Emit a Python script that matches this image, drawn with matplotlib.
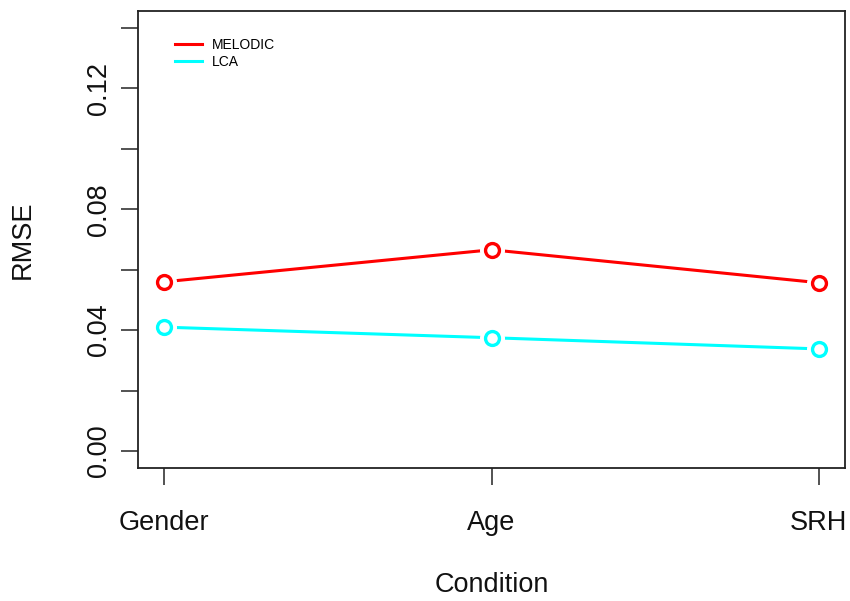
import matplotlib
matplotlib.use("Agg")
import matplotlib.pyplot as plt

# data
conditions = ["Gender", "Age", "SRH"]
melodic = [0.0560, 0.0666, 0.0557]
lca = [0.0410, 0.0375, 0.0338]
yticks = [0.00, 0.02, 0.04, 0.06, 0.08, 0.10, 0.12, 0.14]
ylabels = ["0.00", "", "0.04", "", "0.08", "", "0.12", ""]

plt.rcParams["font.family"] = ["Liberation Sans", "DejaVu Sans"]

fig = plt.figure(figsize=(8.5, 6.01), dpi=100)
ax = fig.add_axes([0.1624, 0.2213, 0.8317, 0.7604])

x = list(range(1, len(conditions) + 1))
series = [("MELODIC", melodic, "#FF0000"), ("LCA", lca, "#00FFFF")]
for name, vals, col in series:
    ax.plot(x, vals, color=col, linewidth=2.2, label=name, zorder=2)
    # white halo so the line stops short of each point (R type="b")
    ax.plot(x, vals, linestyle="none", marker="o", markersize=17,
            markerfacecolor="white", markeredgecolor="white", zorder=3)
    ax.plot(x, vals, linestyle="none", marker="o", markersize=10,
            markerfacecolor="white", markeredgecolor=col,
            markeredgewidth=2.4, zorder=4)

ax.set_xlim(0.92, 3.08)
ax.set_ylim(-0.0056, 0.1456)
ax.set_xticks(x)
ax.set_xticklabels(conditions)
ax.set_yticks(yticks)
ax.set_yticklabels(ylabels, rotation=90, va="center")

for s in ax.spines.values():
    s.set_linewidth(1.3)
    s.set_color("#222222")
ax.tick_params(axis="both", length=12, width=1.3, color="#444444",
               labelsize=19.5, labelcolor="#111111")
ax.tick_params(axis="x", pad=18)
ax.tick_params(axis="y", pad=7)

ax.set_xlabel("Condition", fontsize=19.5, labelpad=26, color="#111111")
ax.set_ylabel("RMSE", fontsize=19.5, labelpad=36, color="#111111")

ax.legend(loc="upper left", bbox_to_anchor=(0.038, 0.962), frameon=False,
          fontsize=10, handlelength=2.0, handletextpad=0.7,
          labelspacing=0.2, borderpad=0.2)

fig.savefig("out.png", dpi=100, facecolor="white")
